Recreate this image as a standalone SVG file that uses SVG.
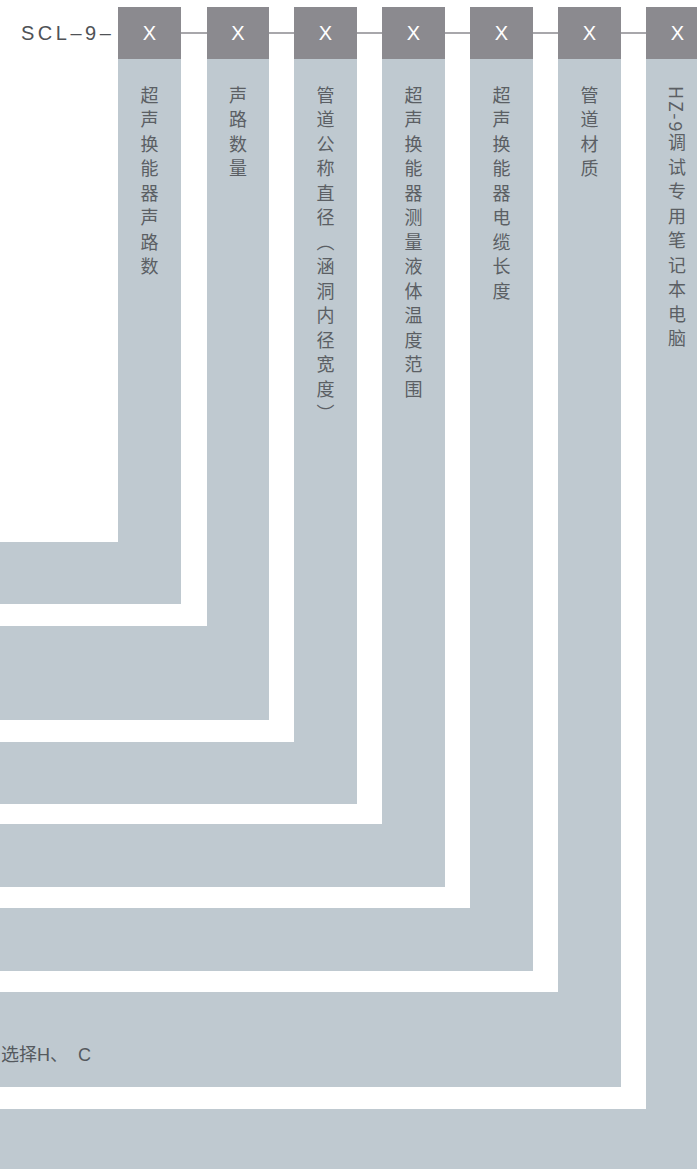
<svg xmlns="http://www.w3.org/2000/svg" width="697" height="1169" viewBox="0 0 697 1169">
<style>
.band{fill:#bfc9d0}
.head{fill:#8b8a8f}
.x{font-family:"Liberation Sans",Arial,sans-serif;font-size:20px;fill:#ffffff;text-anchor:middle}
.v{font-family:"Noto Sans CJK SC",sans-serif;font-size:18px;fill:#5b5f64;writing-mode:vertical-rl;letter-spacing:6.5px}
.conn{stroke:#8b8a8f;stroke-width:1.5;fill:none}
.t{font-family:"Liberation Sans","Noto Sans CJK SC",sans-serif;font-size:18px;fill:#55595e}
</style>
<rect width="697" height="1169" fill="#ffffff"/>
<text x="21" y="40" style="font-family:'Liberation Sans',Arial,sans-serif;font-size:20px;fill:#4f5256;letter-spacing:3.5px">SCL–9–</text>
<g id="connectors">
<line class="conn" x1="181" y1="33" x2="207" y2="33"/>
<line class="conn" x1="269" y1="33" x2="294" y2="33"/>
<line class="conn" x1="357" y1="33" x2="382" y2="33"/>
<line class="conn" x1="445" y1="33" x2="470" y2="33"/>
<line class="conn" x1="533" y1="33" x2="558" y2="33"/>
<line class="conn" x1="621" y1="33" x2="646" y2="33"/>
</g>
<g id="n7">
<path class="band" d="M646 59H709V1169H0V1109H646Z"/>
<rect class="head" x="646" y="7" width="63" height="52"/>
<text class="x" x="677.5" y="40">X</text>
<text class="v" x="677" y="86"><tspan style="letter-spacing:2px">HZ-9</tspan>调试专用笔记本电脑</text>
</g>
<g id="n6">
<path class="band" d="M558 59H621V1087H0V992H558Z"/>
<rect class="head" x="558" y="7" width="63" height="52"/>
<text class="x" x="589.5" y="40">X</text>
<text class="v" x="589.5" y="86">管道材质</text>
<text class="t" x="1" y="1061">选择H、<tspan x="78">C</tspan></text>
</g>
<g id="n5">
<path class="band" d="M470 59H533V971H0V908H470Z"/>
<rect class="head" x="470" y="7" width="63" height="52"/>
<text class="x" x="501.5" y="40">X</text>
<text class="v" x="501.5" y="86">超声换能器电缆长度</text>
</g>
<g id="n4">
<path class="band" d="M382 59H445V887H0V824H382Z"/>
<rect class="head" x="382" y="7" width="63" height="52"/>
<text class="x" x="413.5" y="40">X</text>
<text class="v" x="413.5" y="86">超声换能器测量液体温度范围</text>
</g>
<g id="n3">
<path class="band" d="M294 59H357V804H0V742H294Z"/>
<rect class="head" x="294" y="7" width="63" height="52"/>
<text class="x" x="325.5" y="40">X</text>
<text class="v" x="325.5" y="86">管道公称直径（涵洞内径宽度）</text>
</g>
<g id="n2">
<path class="band" d="M207 59H269V720H0V626H207Z"/>
<rect class="head" x="207" y="7" width="62" height="52"/>
<text class="x" x="238" y="40">X</text>
<text class="v" x="238" y="86">声路数量</text>
</g>
<g id="n1">
<path class="band" d="M118 59H181V604H0V542H118Z"/>
<rect class="head" x="118" y="7" width="63" height="52"/>
<text class="x" x="149.5" y="40">X</text>
<text class="v" x="149.5" y="86">超声换能器声路数</text>
</g>
</svg>
